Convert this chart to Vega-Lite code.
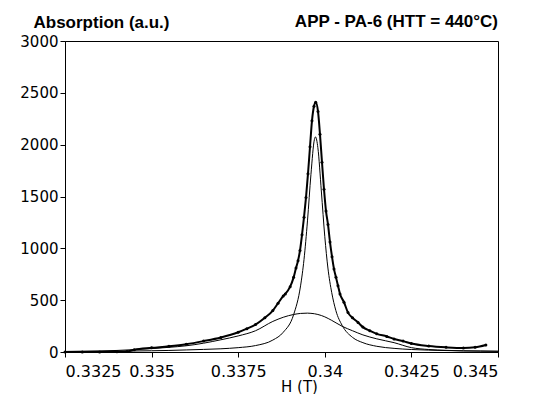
{
  "$schema": "https://vega.github.io/schema/vega-lite/v6.json",
  "width": 433,
  "height": 311,
  "autosize": {"type": "none"},
  "padding": {"left": 65, "top": 41, "right": 39, "bottom": 42},
  "background": "white",
  "config": {"view": {"stroke": "black", "strokeWidth": 1}},
  "title": {"text": "APP - PA-6 (HTT = 440°C)", "anchor": "end", "frame": "group", "font": "Liberation Sans", "fontSize": 17, "fontWeight": "bold", "color": "black", "baseline": "alphabetic", "offset": -12, "dy": 19},
  "datasets": {
    "total": [
      {"H": 0.3325, "A": 0}, {"H": 0.3330, "A": 0}, {"H": 0.3335, "A": 0}, {"H": 0.3340, "A": 2},
      {"H": 0.33429, "A": 5}, {"H": 0.3345, "A": 22}, {"H": 0.3350, "A": 40}, {"H": 0.3355, "A": 55},
      {"H": 0.3360, "A": 75}, {"H": 0.3365, "A": 105}, {"H": 0.3370, "A": 140}, {"H": 0.3375, "A": 190},
      {"H": 0.33775, "A": 225}, {"H": 0.3380, "A": 265}, {"H": 0.33827, "A": 330}, {"H": 0.3385, "A": 400},
      {"H": 0.33865, "A": 470}, {"H": 0.3388, "A": 540}, {"H": 0.33886, "A": 560}, {"H": 0.3390, "A": 630},
      {"H": 0.3391, "A": 720}, {"H": 0.339169, "A": 810}, {"H": 0.339227, "A": 880}, {"H": 0.339284, "A": 980},
      {"H": 0.339342, "A": 1130}, {"H": 0.3394, "A": 1300}, {"H": 0.339457, "A": 1490}, {"H": 0.339515, "A": 1720},
      {"H": 0.339573, "A": 1980}, {"H": 0.33963, "A": 2230}, {"H": 0.339688, "A": 2370}, {"H": 0.339737, "A": 2410},
      {"H": 0.339804, "A": 2320}, {"H": 0.339861, "A": 2100}, {"H": 0.339919, "A": 1830}, {"H": 0.339977, "A": 1570},
      {"H": 0.340035, "A": 1360}, {"H": 0.340092, "A": 1230}, {"H": 0.34015, "A": 1060}, {"H": 0.340208, "A": 920},
      {"H": 0.340266, "A": 800}, {"H": 0.340323, "A": 720}, {"H": 0.340381, "A": 640}, {"H": 0.340439, "A": 560},
      {"H": 0.340554, "A": 480}, {"H": 0.34067, "A": 380}, {"H": 0.3408, "A": 330}, {"H": 0.34096, "A": 285},
      {"H": 0.3411, "A": 240}, {"H": 0.3413, "A": 205}, {"H": 0.3415, "A": 175}, {"H": 0.34179, "A": 150},
      {"H": 0.3420, "A": 125}, {"H": 0.34226, "A": 105}, {"H": 0.3425, "A": 82}, {"H": 0.3430, "A": 58},
      {"H": 0.3435, "A": 45}, {"H": 0.3440, "A": 38}, {"H": 0.34434, "A": 45}, {"H": 0.34465, "A": 68}
    ],
    "narrow": [
      {"H": 0.3325, "A": 5}, {"H": 0.3330, "A": 6}, {"H": 0.3335, "A": 7}, {"H": 0.3340, "A": 8},
      {"H": 0.3345, "A": 10}, {"H": 0.3350, "A": 12}, {"H": 0.3355, "A": 15}, {"H": 0.3360, "A": 20},
      {"H": 0.3365, "A": 25}, {"H": 0.3370, "A": 31}, {"H": 0.3375, "A": 42}, {"H": 0.3380, "A": 62},
      {"H": 0.3385, "A": 115}, {"H": 0.3388, "A": 190}, {"H": 0.3391, "A": 360}, {"H": 0.3393, "A": 638},
      {"H": 0.3394, "A": 893}, {"H": 0.3395, "A": 1265}, {"H": 0.3396, "A": 1713}, {"H": 0.3397, "A": 2050},
      {"H": 0.33973, "A": 2075}, {"H": 0.3398, "A": 1971}, {"H": 0.3399, "A": 1553}, {"H": 0.3400, "A": 1112},
      {"H": 0.34009, "A": 810}, {"H": 0.3402, "A": 573}, {"H": 0.34032, "A": 399}, {"H": 0.3405, "A": 257},
      {"H": 0.3408, "A": 141}, {"H": 0.3411, "A": 90}, {"H": 0.3415, "A": 55}, {"H": 0.3420, "A": 35},
      {"H": 0.3425, "A": 24}, {"H": 0.3430, "A": 18}, {"H": 0.3435, "A": 14}, {"H": 0.3440, "A": 11},
      {"H": 0.3445, "A": 9}, {"H": 0.3450, "A": 7}
    ],
    "broad": [
      {"H": 0.3325, "A": 5}, {"H": 0.3330, "A": 7}, {"H": 0.3335, "A": 10}, {"H": 0.3340, "A": 15},
      {"H": 0.3345, "A": 23}, {"H": 0.3350, "A": 33}, {"H": 0.3355, "A": 45}, {"H": 0.3360, "A": 60},
      {"H": 0.3365, "A": 85}, {"H": 0.3370, "A": 118}, {"H": 0.3375, "A": 155}, {"H": 0.3380, "A": 205},
      {"H": 0.3385, "A": 295}, {"H": 0.3388, "A": 335}, {"H": 0.3391, "A": 362}, {"H": 0.3393, "A": 372},
      {"H": 0.3395, "A": 375}, {"H": 0.3396, "A": 373}, {"H": 0.3397, "A": 369}, {"H": 0.3398, "A": 362},
      {"H": 0.3399, "A": 352}, {"H": 0.3400, "A": 339}, {"H": 0.3402, "A": 305}, {"H": 0.3405, "A": 248},
      {"H": 0.3408, "A": 205}, {"H": 0.3411, "A": 165}, {"H": 0.3415, "A": 127}, {"H": 0.3420, "A": 90},
      {"H": 0.3425, "A": 42}, {"H": 0.3430, "A": 24}, {"H": 0.3435, "A": 16}, {"H": 0.3440, "A": 11},
      {"H": 0.3445, "A": 9}, {"H": 0.3450, "A": 7}
    ]
  },
  "encoding": {
    "x": {
      "field": "H", "type": "quantitative",
      "scale": {"domain": [0.3325, 0.345], "nice": false, "zero": false},
      "axis": {
        "title": "H (T)", "values": [0.3325, 0.335, 0.3375, 0.34, 0.3425, 0.345],
        "labelExpr": "'' + datum.value", "grid": false, "labelOverlap": false,
        "domainColor": "black", "tickColor": "black", "labelColor": "black",
        "labelFont": "DejaVu Sans", "labelFontSize": 16, "tickSize": 5, "labelPadding": 6,
        "titleFont": "DejaVu Sans", "titleFontSize": 15, "titleFontWeight": "normal", "titleColor": "black",
        "titleX": 234, "titleY": 39, "titleBaseline": "alphabetic", "titleAlign": "center"
      }
    },
    "y": {
      "field": "A", "type": "quantitative",
      "scale": {"domain": [0, 3000], "nice": false},
      "axis": {
        "title": "Absorption (a.u.)", "values": [0, 500, 1000, 1500, 2000, 2500, 3000], "format": "d",
        "grid": false, "domainColor": "black", "tickColor": "black", "labelColor": "black",
        "labelFont": "DejaVu Sans", "labelFontSize": 15, "tickSize": 5, "labelPadding": 2,
        "titleFont": "Liberation Sans", "titleFontSize": 17, "titleFontWeight": "bold", "titleColor": "black",
        "titleAngle": 0, "titleAlign": "left", "titleBaseline": "alphabetic", "titleX": -32, "titleY": -14
      }
    }
  },
  "layer": [
    {"data": {"name": "broad"}, "mark": {"type": "line", "interpolate": "monotone", "color": "black", "strokeWidth": 1}},
    {"data": {"name": "narrow"}, "mark": {"type": "line", "interpolate": "monotone", "color": "black", "strokeWidth": 1}},
    {"data": {"name": "total"}, "mark": {"type": "line", "interpolate": "monotone", "color": "black", "strokeWidth": 2}},
    {"data": {"name": "total"}, "mark": {"type": "point", "filled": true, "color": "black", "size": 9, "opacity": 1}}
  ]
}
